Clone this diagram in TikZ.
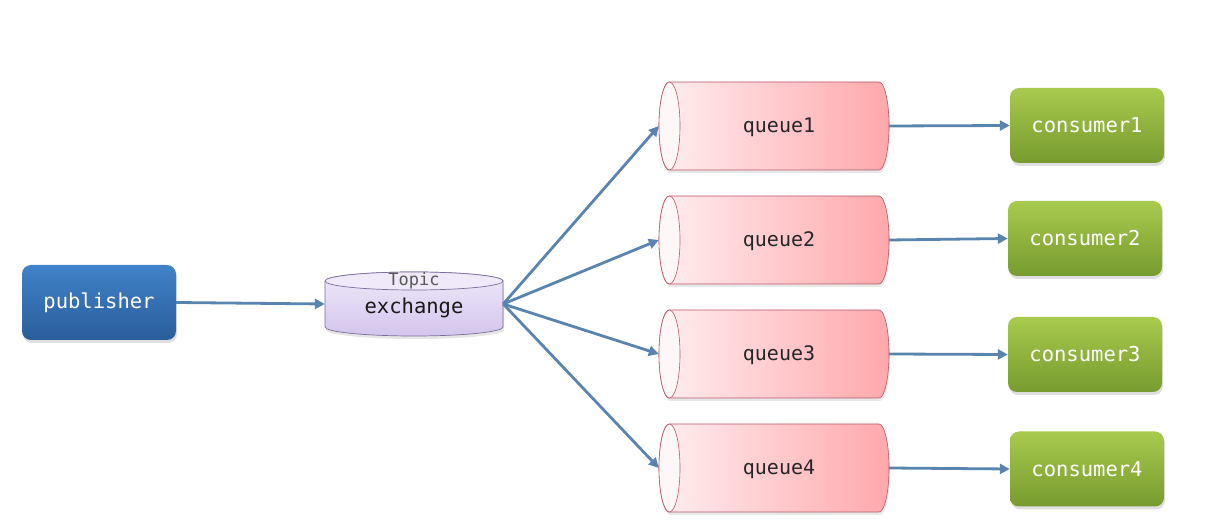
\documentclass[tikz,border=0pt]{standalone}
\usepackage{fontspec}
\setmonofont{DejaVu Sans Mono}
\usetikzlibrary{arrows.meta,shadows}
\definecolor{arrowc}{HTML}{5A84B0}
\definecolor{pubtop}{HTML}{4182C8}
\definecolor{pubbot}{HTML}{2A5E9C}
\definecolor{contop}{HTML}{A8CA4E}
\definecolor{conbot}{HTML}{779B2E}
\definecolor{qleft}{HTML}{FFEEF0}
\definecolor{qright}{HTML}{FFA8AC}
\definecolor{qend}{HTML}{FFF6F7}
\definecolor{qborder}{HTML}{B85868}
\definecolor{extop}{HTML}{EFE9FA}
\definecolor{exbot}{HTML}{D3C5EC}
\definecolor{exborder}{HTML}{7C6C9C}
\tikzset{
  x=1pt,y=1pt,
  box/.style={rounded corners=9pt, minimum width=154pt, minimum height=75pt,
    text=white, font=\ttfamily\fontsize{20.5}{24}\selectfont,
    drop shadow={opacity=0.25, shadow xshift=1pt, shadow yshift=-3pt}},
  pubbox/.style={box, top color=pubtop, bottom color=pubbot},
  conbox/.style={box, top color=contop, bottom color=conbot},
  qnode/.style={minimum width=230pt, minimum height=88pt, inner sep=0pt,
    font=\ttfamily\fontsize{20}{24}\selectfont, text=black!85},
  conn/.style={draw=arrowc, line width=2.8pt, -{Triangle[length=10pt,width=10pt]}},
}
\begin{document}
\begin{tikzpicture}
\useasboundingbox (0,0) rectangle (1209,527);
% publisher
\node[pubbox] (pub) at (99,224.5) {publisher};
% exchange cylinder
\shade[top color=extop, bottom color=exbot, draw=exborder, line width=0.7pt,
  drop shadow={opacity=0.2, shadow xshift=1pt, shadow yshift=-3pt}]
  (325,246) -- (325,200) arc[start angle=180,end angle=360,x radius=89pt,y radius=9pt]
  -- (503,246) arc[start angle=0,end angle=180,x radius=89pt,y radius=9pt] -- cycle;
\draw[draw=exborder, line width=0.7pt, fill=extop] (414,246) ellipse[x radius=89pt, y radius=9pt];
\node[minimum width=178pt, minimum height=64pt, inner sep=0pt] (ex) at (414,223) {};
\node[font=\ttfamily\fontsize{17}{19}\selectfont, text=black!65] (extopic) at (414,246.5) {Topic};
\node[font=\ttfamily\fontsize{20.5}{24}\selectfont, text=black!90] (exname) at (414,219) {exchange};
% queues
\foreach \i/\c in {1/401,2/287,3/173,4/59}{
  \shade[left color=qleft, right color=qright, draw=qborder, line width=0.6pt,
    drop shadow={opacity=0.18, shadow xshift=1pt, shadow yshift=-3pt}]
    (669,\c+44) -- (879,\c+44) arc[start angle=90,end angle=-90,x radius=10pt,y radius=44pt]
    -- (669,\c-44) arc[start angle=270,end angle=90,x radius=10pt,y radius=44pt] -- cycle;
  \draw[draw=qborder, line width=0.6pt, fill=qend] (669.5,\c) ellipse[x radius=10.5pt, y radius=44pt];
  \node[qnode] (q\i) at (774,\c) {};
  \node[font=\ttfamily\fontsize{20}{24}\selectfont, text=black!85] (ql\i) at (779,\c-1) {queue\i};
}
% consumers
\node[conbox] (c1) at (1087,401.5) {consumer1};
\node[conbox] (c2) at (1085,288.5) {consumer2};
\node[conbox] (c3) at (1085,172.5) {consumer3};
\node[conbox] (c4) at (1087,58) {consumer4};
% connectors
\draw[conn] (pub.east) -- (ex.west);
\foreach \i in {1,2,3,4}{
  \draw[conn] (ex.east) -- (q\i.west);
  \draw[conn] (q\i.east) -- (c\i.west);
}
\end{tikzpicture}
\end{document}
